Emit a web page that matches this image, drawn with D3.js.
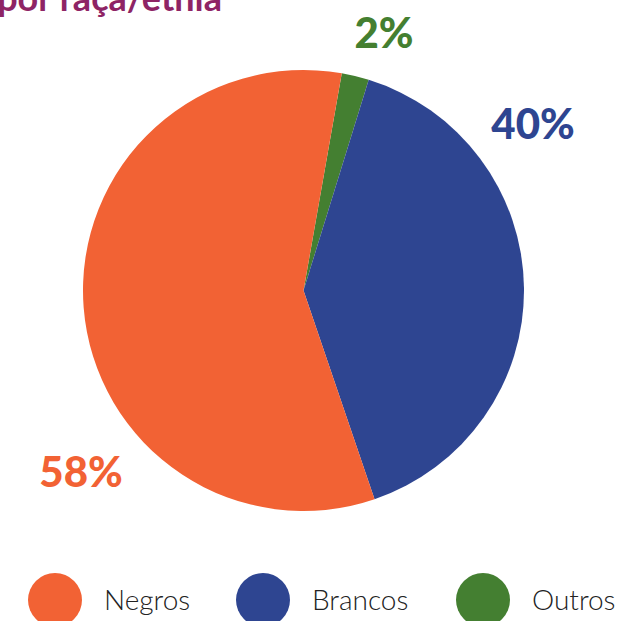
<!DOCTYPE html>
<html lang="en">
<head>
    <meta charset="UTF-8">
    <title>Raça/etnia</title>
    <style>
        body { margin: 0; background: #fff; }
        svg { display: block; }
    </style>
</head>
<body>
    <div id="chart"></div>
    <script src="https://d3js.org/d3.v7.min.js"></script>
    <script>
        var categories = ["Outros", "Brancos", "Negros"];
        var values = [2, 40, 58];
        var pctLabels = ["2%", "40%", "58%"];
        var legendOrder = ["Negros", "Brancos", "Outros"];

        var width = 620, height = 621;
        var cx = 303.5, cy = 290.5, radius = 220.5;

        var color = d3.scaleOrdinal()
            .domain(categories)
            .range(["#447f31", "#2e4591", "#f26234"]);

        var svg = d3.select('#chart')
            .append('svg')
                .attr('width', width)
                .attr('height', height);

        // title, cut at the top of the picture
        svg.append('text')
            .attr('x', 222)
            .attr('y', 11)
            .attr('text-anchor', 'end')
            .style('font-family', 'Lato, sans-serif')
            .style('font-weight', 700)
            .style('font-size', '36px')
            .style('fill', '#8e2465')
            .text('por raça/etnia');

        var pie = d3.pie()
            .sort(null)
            .startAngle(10 * Math.PI / 180)
            .endAngle(370 * Math.PI / 180);

        var arc = d3.arc().innerRadius(0).outerRadius(radius);

        var g = svg.append('g')
            .attr('transform', 'translate(' + cx + ',' + cy + ')');

        g.selectAll('path')
            .data(pie(values))
            .enter()
            .append('path')
                .attr('d', arc)
                .style('fill', function(d, i) { return color(categories[i]); });

        // percent labels
        var labelPos = [[384, 48], [533, 139], [81, 487]];
        svg.selectAll('.pct')
            .data(pctLabels)
            .enter()
            .append('text')
                .attr('class', 'pct')
                .attr('x', function(d, i) { return labelPos[i][0]; })
                .attr('y', function(d, i) { return labelPos[i][1]; })
                .attr('text-anchor', 'middle')
                .style('font-family', 'Lato, sans-serif')
                .style('font-weight', 900)
                .style('font-size', '42px')
                .style('fill', function(d, i) { return color(categories[i]); })
                .text(function(d) { return d; });

        // legend
        var legendX = [55, 263, 483];
        var legend = svg.selectAll('.legend')
            .data(legendOrder)
            .enter().append('g')
            .attr('class', 'legend')
            .attr('transform', function(d, i) { return 'translate(' + legendX[i] + ',600)'; });

        legend.append('circle')
            .attr('r', 27)
            .style('fill', color);

        legend.append('text')
            .attr('x', 49)
            .attr('y', 10)
            .style('font-family', 'Lato, sans-serif')
            .style('font-weight', 300)
            .style('font-size', '28px')
            .style('fill', '#222')
            .text(function(d) { return d; });
    </script>
</body>
</html>
